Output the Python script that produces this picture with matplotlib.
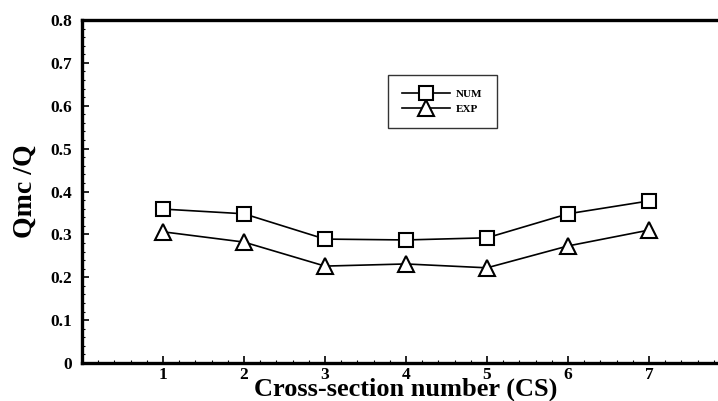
import numpy as np
import matplotlib.pyplot as plt
from matplotlib.ticker import MultipleLocator

plt.rcParams["font.family"] = ["Liberation Serif", "DejaVu Serif"]
plt.rcParams["font.weight"] = "bold"

# data
cs = [1, 2, 3, 4, 5, 6, 7]
num = [0.359, 0.348, 0.289, 0.287, 0.292, 0.348, 0.378]
exp_ = [0.306, 0.282, 0.226, 0.231, 0.222, 0.273, 0.310]

fig = plt.figure(figsize=(7.18, 4.01), dpi=100)
ax = fig.add_axes([82 / 718, 38 / 401, 648 / 718, 343 / 401])

ax.plot(cs, num, "-", color="black", lw=1.2, marker="s", ms=10,
        mfc="white", mec="black", mew=1.5, label="NUM")
ax.plot(cs, exp_, "-", color="black", lw=1.2, marker="^", ms=11,
        mfc="white", mec="black", mew=1.5, label="EXP")

ax.set_xlim(0, 8)
ax.set_ylim(0, 0.8)
ax.xaxis.set_minor_locator(MultipleLocator(0.2))
ax.yaxis.set_minor_locator(MultipleLocator(0.02))
ax.set_xticks(cs)
ax.set_xticklabels([str(c) for c in cs])
ax.set_yticks(np.arange(0, 0.81, 0.1))
ax.set_yticklabels(["0"] + ["%.1f" % v for v in np.arange(0.1, 0.81, 0.1)])

ax.tick_params(which="major", direction="in", length=5, width=1.2,
               labelsize=12.5)
ax.tick_params(axis="x", which="major", pad=3)
ax.tick_params(axis="y", which="major", pad=7)
ax.tick_params(which="minor", direction="in", length=2.5, width=0.8)
ax.tick_params(top=False, right=False, which="both")

for side in ["left", "bottom", "top"]:
    ax.spines[side].set_linewidth(2.4)
ax.spines["right"].set_visible(False)

ax.set_xlabel("Cross-section number (CS)", fontsize=19, fontweight="bold",
              labelpad=-4)
ax.set_ylabel("Qmc /Q", fontsize=20, fontweight="bold", labelpad=9)

leg = ax.legend(loc="upper left", bbox_to_anchor=((388 - 82) / 648, (363 - 75) / 343),
                fontsize=8, frameon=True, fancybox=False, labelspacing=0.45,
                handlelength=4.3, handletextpad=0.5, borderpad=1.3,
                borderaxespad=0)
leg.get_frame().set_edgecolor("black")
leg.get_frame().set_linewidth(1.0)

fig.savefig("out.png", dpi=100)
